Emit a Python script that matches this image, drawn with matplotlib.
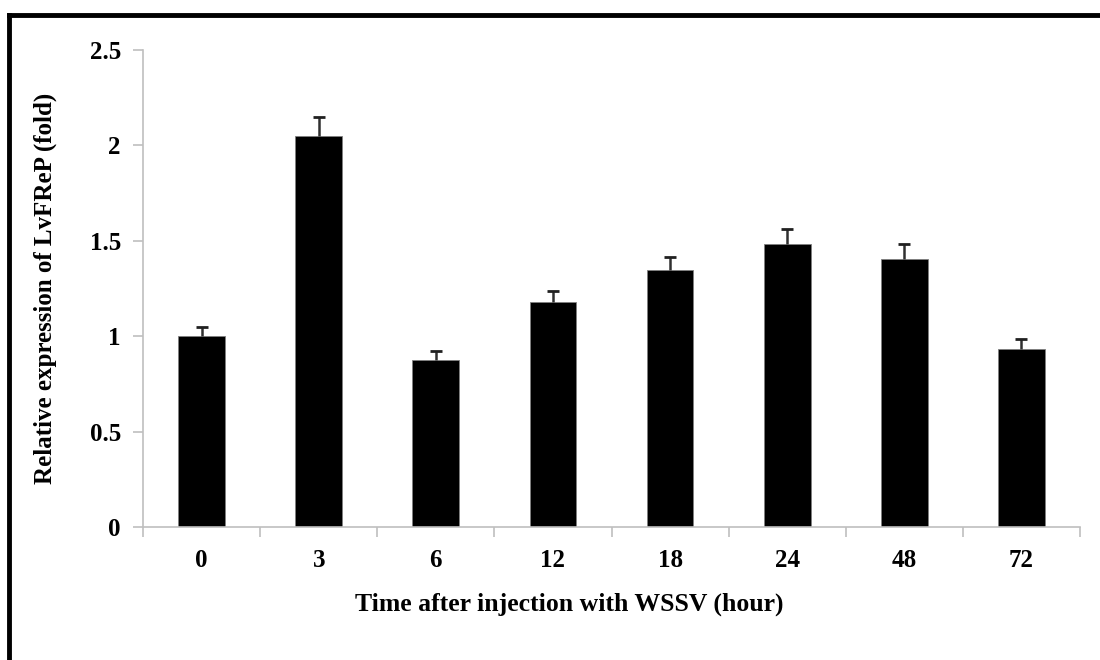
import matplotlib
matplotlib.use("Agg")
import matplotlib.pyplot as plt
from matplotlib.lines import Line2D
import numpy as np

categories = ["0", "3", "6", "12", "18", "24", "48", "72"]
values = [1.00, 2.05, 0.875, 1.18, 1.345, 1.485, 1.405, 0.933]
errors = [0.05, 0.10, 0.045, 0.057, 0.07, 0.075, 0.078, 0.052]
yticks = [0, 0.5, 1, 1.5, 2, 2.5]
ytick_labels = ["0", "0.5", "1", "1.5", "2", "2.5"]

plt.rcParams['font.family'] = ['Liberation Serif', 'DejaVu Serif']
plt.rcParams['font.weight'] = 'bold'

fig = plt.figure(figsize=(11, 6.6), dpi=100)
ax = fig.add_axes([143/1100, 1-527/660, (1080-143)/1100, (527-50)/660])

x = np.arange(len(categories))
vals = np.array(values)
errs = np.array(errors)
ax.bar(x, vals, width=0.4, color='black', edgecolor='#808080', linewidth=0.6, zorder=2)
# upper-only error bars
ax.vlines(x, vals, vals + errs, color='#303030', linewidth=1.8, zorder=3)
ax.plot(x, vals + errs, linestyle='none', marker='_', markersize=8,
        markeredgewidth=2.0, color='#202020', zorder=3)

ax.set_xlim(-0.5, len(categories) - 0.5)
ax.set_ylim(0, 2.5)
ax.set_yticks(yticks)
ax.set_yticklabels(ytick_labels)
ax.set_xticks(x)
ax.set_xticklabels(categories)
ax.set_xticks(np.arange(-0.5, len(categories)), minor=True)

for s in ['top', 'right']:
    ax.spines[s].set_visible(False)
for s in ['left', 'bottom']:
    ax.spines[s].set_color('#bfbfbf')
    ax.spines[s].set_linewidth(1.2)

ax.tick_params(axis='y', which='major', direction='out', length=7, width=1.2,
               color='#bfbfbf', labelsize=18, pad=9)
ax.tick_params(axis='x', which='major', length=0, labelsize=18, pad=16)
ax.tick_params(axis='x', which='minor', direction='out', length=7, width=1.2, color='#bfbfbf')
for lab in ax.get_xticklabels() + ax.get_yticklabels():
    lab.set_fontweight('bold')

ax.set_xlabel("Time after injection with WSSV (hour)", fontsize=18.5, fontweight='bold')
ax.set_ylabel("Relative expression of LvFReP (fold)", fontsize=18, fontweight='bold')
ax.xaxis.set_label_coords((569 - 143) / (1080 - 143), -(604 - 527) / (527 - 50),
                          transform=ax.transAxes)
ax.xaxis.label.set_va('center')
ax.yaxis.set_label_coords(-(143 - 45) / (1080 - 143), 0.5, transform=ax.transAxes)
ax.yaxis.label.set_va('center')

# outer frame (top and left edges visible)
fig.add_artist(Line2D([8.5/1100, 8.5/1100], [0, 1-14.5/660], transform=fig.transFigure,
                      color='black', linewidth=3.5, solid_capstyle='projecting'))
fig.add_artist(Line2D([8.5/1100, 1], [1-14.5/660, 1-14.5/660], transform=fig.transFigure,
                      color='black', linewidth=3.5, solid_capstyle='projecting'))

fig.savefig("out.png", dpi=100, facecolor='white')
